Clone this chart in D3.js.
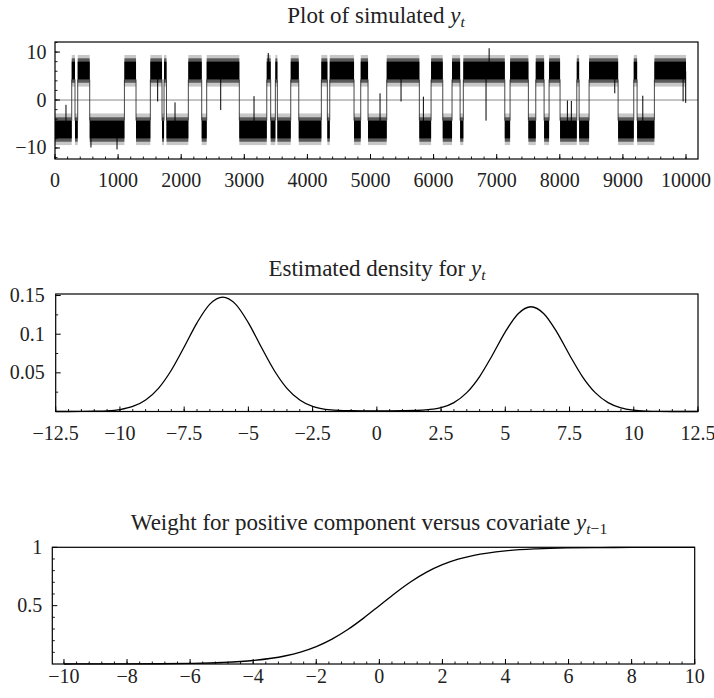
<!DOCTYPE html>
<html><head><meta charset="utf-8">
<script src="https://cdn.jsdelivr.net/npm/d3@7/dist/d3.min.js"></script>
<style>
body{margin:0;background:#fff}
text{font-family:"Liberation Serif","DejaVu Serif",serif;fill:#222}
</style></head>
<body><svg id="chart" width="714" height="698"></svg>
<script>
// ---------- data: simulated series, regime segments ----------
const regimeStart = [0,265,317,360,550,1100,1284,1511,1696,1728,1767,2113,2325,2404,2921,3356,3418,3492,3524,3736,3863,4221,4316,4354,4739,4845,4961,5257,5774,5960,6145,6292,6420,6471,7128,7212,7502,7619,7751,7830,8004,8269,8306,8464,8924,9172,9225,9499];
const regimeSign  = [-1,1,-1,1,-1,1,-1,1,-1,1,-1,1,-1,1,-1,1,-1,1,-1,1,-1,1,-1,1,-1,1,-1,1,-1,1,-1,1,-1,1,-1,1,-1,1,-1,1,-1,1,-1,1,-1,1,-1,1];
const seriesEnd = 10000;
const bandCore = [4.3, 8.0];     // |y| range of the dense core of each regime
const bandInner = [3.6, 8.7];    // |y| range of the dense part of the spiky fringe
const bandOuter = [2.8, 9.4];    // |y| range of the sparse outer fringe
const spikeT = [174,570,983,1627,1902,2626,3154,3380,5151,5484,5838,6831,6880,8120,8183,8871,9315,9954,9995];
const spikeV = [-1.0,-9.9,-10.3,-0.3,-0.5,-2.1,0.8,9.8,1.4,-0.3,0.7,-4.3,10.8,-0.1,-0.2,1.4,0.9,-0.3,-0.6];
const tsXTicks = [0,1000,2000,3000,4000,5000,6000,7000,8000,9000,10000];
const tsXLabels = ["0","1000","2000","3000","4000","5000","6000","7000","8000","9000","10000"];
const tsYTicks = [-10,0,10];
const tsYLabels = ["\u221210","0","10"];

// ---------- data: estimated density ----------
const densX = [-12.5,-12,-11.5,-11,-10.5,-10,-9.5,-9,-8.5,-8,-7.5,-7,-6.5,-6,-5.5,-5,-4.5,-4,-3.5,-3,-2.5,-2,-1.5,-1,-0.5,0,0.5,1,1.5,2,2.5,3,3.5,4,4.5,5,5.5,6,6.5,7,7.5,8,8.5,9,9.5,10,10.5,11,11.5,12,12.5];
const densY = [0,0,0.0001,0.0003,0.0008,0.0025,0.0065,0.0149,0.0300,0.0534,0.0834,0.1147,0.1389,0.148,0.1389,0.1147,0.0834,0.0534,0.0300,0.0149,0.0065,0.0028,0.0014,0.0010,0.0009,0.0009,0.0009,0.0010,0.0013,0.0024,0.0050,0.0115,0.0244,0.0452,0.0731,0.1030,0.1265,0.1355,0.1265,0.1030,0.0731,0.0452,0.0244,0.0115,0.0047,0.0017,0.0005,0.0001,0,0,0];
const densXTicks = [-12.5,-10,-7.5,-5,-2.5,0,2.5,5,7.5,10,12.5];
const densXLabels = ["\u221212.5","\u221210","\u22127.5","\u22125","\u22122.5","0","2.5","5","7.5","10","12.5"];
const densYTicks = [0.05,0.1,0.15];
const densYLabels = ["0.05","0.1","0.15"];

// ---------- data: weight curve ----------
const wX = [-10,-9,-8,-7,-6,-5,-4,-3,-2.5,-2,-1.5,-1,-0.5,0,0.5,1,1.5,2,2.5,3,4,5,6,7,8,9,10];
const wY = [0.0002,0.0004,0.0009,0.0023,0.0054,0.0127,0.0299,0.0685,0.102,0.149,0.213,0.295,0.393,0.5,0.607,0.705,0.787,0.851,0.898,0.9315,0.970,0.987,0.9946,0.9977,0.9991,0.9996,0.9998];
const wXTicks = [-10,-8,-6,-4,-2,0,2,4,6,8,10];
const wXLabels = ["\u221210","\u22128","\u22126","\u22124","\u22122","0","2","4","6","8","10"];
const wYTicks = [0.5,1];
const wYLabels = ["0.5","1"];

// ---------- layout ----------
const svg = d3.select("#chart");
const FS = 20;
const TFS = 23;
const P1 = {l:55, r:698, t:42, b:159};
const P2 = {l:55.7, r:698, t:294, b:411.5};
const P3 = {l:52.3, r:694.7, t:547.3, b:664};

const x1 = d3.scaleLinear().domain([0,10190]).range([P1.l,P1.r]);
const y1 = d3.scaleLinear().domain([-12.3,12.1]).range([P1.b,P1.t]);
const x2 = d3.scaleLinear().domain([-12.5,12.5]).range([P2.l,P2.r]);
const y2 = d3.scaleLinear().domain([0,0.152]).range([P2.b,P2.t]);
const x3 = d3.scaleLinear().domain([-10.37,10]).range([P3.l,P3.r]);
const y3 = d3.scaleLinear().domain([0,1]).range([P3.b,P3.t]);

function axes(P, xs, ys, xT, xL, xMinor, yT, yL, yMinor, xBase, labGapY, xLabBase){
  const g = svg.append("g");
  const yb = ys(xBase);
  xMinor.forEach(v=>{ g.append("line").attr("x1",xs(v)).attr("x2",xs(v)).attr("y1",yb).attr("y2",yb-2.5).attr("stroke","#000").attr("stroke-width",0.9); });
  xT.forEach((v,i)=>{
    g.append("line").attr("x1",xs(v)).attr("x2",xs(v)).attr("y1",yb).attr("y2",yb-5).attr("stroke","#000").attr("stroke-width",1);
    g.append("text").attr("x",xs(v)).attr("y",xLabBase).attr("text-anchor","middle").attr("font-size",FS).text(xL[i]);
  });
  yMinor.forEach(v=>{ g.append("line").attr("x1",P.l).attr("x2",P.l+2.5).attr("y1",ys(v)).attr("y2",ys(v)).attr("stroke","#000").attr("stroke-width",0.9); });
  yT.forEach((v,i)=>{
    g.append("line").attr("x1",P.l).attr("x2",P.l+5).attr("y1",ys(v)).attr("y2",ys(v)).attr("stroke","#000").attr("stroke-width",1);
    g.append("text").attr("x",P.l-labGapY).attr("y",ys(v)+6.5).attr("text-anchor","end").attr("font-size",FS).text(yL[i]);
  });
}
function frame(P){
  svg.append("rect").attr("x",P.l).attr("y",P.t).attr("width",P.r-P.l).attr("height",P.b-P.t)
    .attr("fill","none").attr("stroke","#000").attr("stroke-width",1.2);
}
function title(cx, y, parts, fs){
  const t = svg.append("text").attr("x",cx).attr("y",y).attr("text-anchor","middle").attr("font-size",fs);
  parts.forEach(p=>{
    const s = t.append("tspan").text(p.s);
    if(p.i) s.attr("font-style","italic");
    if(p.sub) s.attr("font-size",fs*0.68).attr("dy",p.dy);
  });
}

// ---------- panel 1 ----------
svg.append("line").attr("x1",P1.l).attr("x2",P1.r).attr("y1",y1(0)).attr("y2",y1(0)).attr("stroke","#8a8a8a").attr("stroke-width",1);
const g1 = svg.append("g");
function band(s,e,sg,rng,op){
  const a = y1(sg*rng[0]), b = y1(sg*rng[1]);
  g1.append("rect").attr("x",x1(s)).attr("width",Math.max(0.8,x1(e)-x1(s)))
    .attr("y",Math.min(a,b)).attr("height",Math.abs(a-b)).attr("fill","#000").attr("opacity",op);
}
regimeStart.forEach((s,i)=>{
  const e = i<regimeStart.length-1 ? regimeStart[i+1] : seriesEnd;
  const sg = regimeSign[i];
  band(s,e,sg,bandOuter,0.22);
  band(s,e,sg,bandInner,0.55);
  band(s,e,sg,bandCore,1);
  if(i<regimeStart.length-1){
    g1.append("line").attr("x1",x1(e)).attr("x2",x1(e))
      .attr("y1",y1(sg*bandCore[0])).attr("y2",y1(-sg*bandCore[0]))
      .attr("stroke","#333").attr("stroke-width",0.9);
  }
});
spikeT.forEach((t,i)=>{
  const v = spikeV[i];
  let k = d3.bisectRight(regimeStart,t)-1;
  const sg = regimeSign[Math.max(0,k)];
  g1.append("line").attr("x1",x1(t)).attr("x2",x1(t)).attr("y1",y1(sg*6)).attr("y2",y1(v))
    .attr("stroke","#000").attr("stroke-width",1);
});
frame(P1);
axes(P1,x1,y1,tsXTicks,tsXLabels,d3.range(0,10001,200),tsYTicks,tsYLabels,d3.range(-12,13,2),-12.3,8.5,187);
title(376,23,[{s:"Plot of simulated "},{s:"y",i:true},{s:"t",i:true,sub:true,dy:4}],TFS);

// ---------- panel 2 ----------
const line2 = d3.line().x((d,i)=>x2(densX[i])).y((d,i)=>y2(densY[i])).curve(d3.curveMonotoneX);
svg.append("path").attr("d",line2(densX)).attr("fill","none").attr("stroke","#000").attr("stroke-width",1.3);
frame(P2);
axes(P2,x2,y2,densXTicks,densXLabels,d3.range(-12.5,12.51,0.5),densYTicks,densYLabels,[0.025,0.075,0.125],0,11,440);
title(377,276,[{s:"Estimated density for "},{s:"y",i:true},{s:"t",i:true,sub:true,dy:4}],TFS);

// ---------- panel 3 ----------
const line3 = d3.line().x((d,i)=>x3(wX[i])).y((d,i)=>y3(wY[i])).curve(d3.curveMonotoneX);
svg.append("path").attr("d",line3(wX)).attr("fill","none").attr("stroke","#000").attr("stroke-width",1.3);
frame(P3);
axes(P3,x3,y3,wXTicks,wXLabels,d3.range(-10,10.01,0.4),wYTicks,wYLabels,[0.1,0.2,0.3,0.4,0.6,0.7,0.8,0.9],0,10,683);
const tt = svg.append("text").attr("x",369).attr("y",530).attr("text-anchor","middle").attr("font-size",TFS);
tt.append("tspan").text("Weight for positive component versus covariate ");
tt.append("tspan").attr("font-style","italic").text("y");
tt.append("tspan").attr("font-size",TFS*0.68).attr("dy",4).attr("font-style","italic").text("t");
tt.append("tspan").attr("font-size",TFS*0.68).text("\u22121");
</script>
</body></html>
